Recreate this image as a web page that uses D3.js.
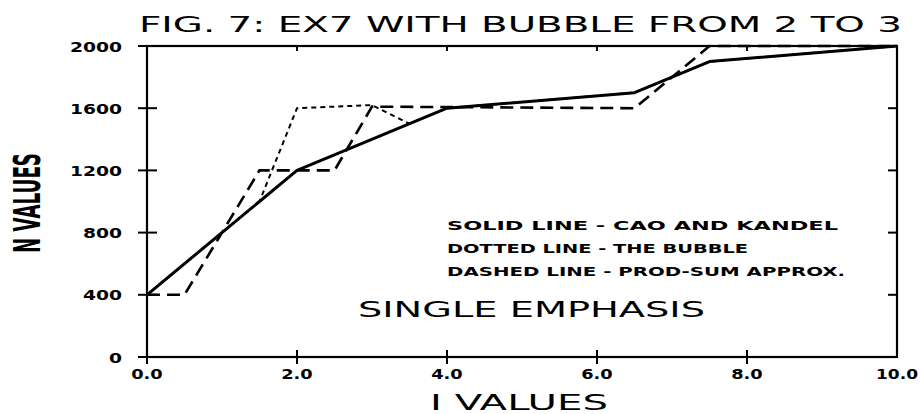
<!DOCTYPE html>
<html><head><meta charset="utf-8">
<script src="https://cdn.jsdelivr.net/npm/d3@7"></script>
<style>html,body{margin:0;padding:0;background:#fff;}svg{display:block;}</style>
</head><body>
<svg id="c" width="920" height="414"></svg>
<script>
// ---- data ----
const xTickValues = [0, 2, 4, 6, 8, 10];
const xTickLabels = ["0.0", "2.0", "4.0", "6.0", "8.0", "10.0"];
const yTickValues = [0, 400, 800, 1200, 1600, 2000];
const yTickLabels = ["0", "400", "800", "1200", "1600", "2000"];

const solidX  = [0, 1.5, 2, 4, 6.5, 7.5, 10];
const solidY  = [400, 1000, 1200, 1600, 1700, 1900, 2000];
const dottedX = [0, 1.5, 2, 3, 3.5, 4, 6.5, 7.5, 10];
const dottedY = [400, 1000, 1600, 1620, 1500, 1600, 1700, 1900, 2000];
const dashedX = [0, 0.5, 1.5, 2.5, 3, 6.5, 7.5, 10];
const dashedY = [400, 400, 1200, 1200, 1610, 1600, 2000, 2000];

const titleText = "FIG. 7: EX7 WITH BUBBLE FROM 2 TO 3";
const xLabel = "I VALUES";
const yLabel = "N VALUES";
const legendLines = ["SOLID LINE - CAO AND KANDEL", "DOTTED LINE - THE BUBBLE", "DASHED LINE - PROD-SUM APPROX."];
const noteText = "SINGLE EMPHASIS";

// ---- layout ----
const svg = d3.select("#c");
const x = d3.scaleLinear().domain([0, 10]).range([147, 897]);
const y = d3.scaleLinear().domain([0, 2000]).range([357, 46]);
const ink = "#000";

// frame
svg.append("rect").attr("x", x(0)).attr("y", y(2000))
  .attr("width", x(10) - x(0)).attr("height", y(0) - y(2000))
  .attr("fill", "none").attr("stroke", ink).attr("stroke-width", 2.2);

// ticks
const xt = xTickValues.filter(v => v > 0 && v < 10);
svg.selectAll(".xb").data(xt).join("line")
  .attr("x1", d => x(d)).attr("x2", d => x(d)).attr("y1", y(0) - 7).attr("y2", y(0) + 7)
  .attr("stroke", ink).attr("stroke-width", 2);
svg.selectAll(".xt").data(xt).join("line")
  .attr("x1", d => x(d)).attr("x2", d => x(d)).attr("y1", y(2000)).attr("y2", y(2000) + 5)
  .attr("stroke", ink).attr("stroke-width", 2);
svg.append("line").attr("x1", x(0)).attr("x2", x(0)).attr("y1", y(0)).attr("y2", y(0) + 7)
  .attr("stroke", ink).attr("stroke-width", 2);
const yt = yTickValues.filter(v => v > 0 && v < 2000);
svg.selectAll(".yl").data(yTickValues).join("line")
  .attr("x1", x(0) - 9).attr("x2", x(0) + 10).attr("y1", d => y(d)).attr("y2", d => y(d))
  .attr("stroke", ink).attr("stroke-width", 2);
svg.selectAll(".yr").data(yt).join("line")
  .attr("x1", x(10) - 9).attr("x2", x(10)).attr("y1", d => y(d)).attr("y2", d => y(d))
  .attr("stroke", ink).attr("stroke-width", 2);

// tick labels
const tickFont = "'DejaVu Sans', sans-serif";
svg.selectAll(".xtl").data(xTickValues).join("text")
  .attr("x", d => x(d)).attr("y", 379).attr("text-anchor", "middle")
  .attr("font-family", tickFont).attr("font-weight", "bold").attr("font-size", 14)
  .attr("textLength", (d, i) => xTickLabels[i].length * 10.5)
  .attr("lengthAdjust", "spacingAndGlyphs")
  .text((d, i) => xTickLabels[i]);
svg.selectAll(".ytl").data(yTickValues).join("text")
  .attr("x", 122).attr("y", d => y(d) + 5.5).attr("text-anchor", "end")
  .attr("font-family", tickFont).attr("font-weight", "bold").attr("font-size", 14)
  .attr("textLength", (d, i) => yTickLabels[i].length * 13)
  .attr("lengthAdjust", "spacingAndGlyphs")
  .text((d, i) => yTickLabels[i]);

// series
const line = d3.line().x(d => x(d[0])).y(d => y(d[1]));
const zip = (a, b) => a.map((v, i) => [v, b[i]]);
svg.append("path").attr("d", line(zip(dottedX, dottedY))).attr("fill", "none")
  .attr("stroke", ink).attr("stroke-width", 2).attr("stroke-dasharray", "5,4");
svg.append("path").attr("d", line(zip(dashedX, dashedY))).attr("fill", "none")
  .attr("stroke", ink).attr("stroke-width", 2.6).attr("stroke-dasharray", "13,7");
svg.append("path").attr("d", line(zip(solidX, solidY))).attr("fill", "none")
  .attr("stroke", ink).attr("stroke-width", 3).attr("stroke-linejoin", "round");

// title
svg.append("text").attr("x", 139).attr("y", 32)
  .attr("font-family", "'DejaVu Sans', sans-serif").attr("font-size", 20.5)
  .attr("textLength", 763).attr("lengthAdjust", "spacingAndGlyphs")
  .text(titleText);

// legend
const legW = [391, 301, 398];
svg.selectAll(".leg").data(legendLines).join("text")
  .attr("x", 447).attr("y", (d, i) => 229.5 + i * 23)
  .attr("font-family", tickFont).attr("font-weight", "bold").attr("font-size", 12.5)
  .attr("textLength", (d, i) => legW[i]).attr("lengthAdjust", "spacingAndGlyphs")
  .text(d => d);

// note
svg.append("text").attr("x", 358).attr("y", 317)
  .attr("font-family", "'DejaVu Sans', sans-serif").attr("font-size", 21)
  .attr("textLength", 347).attr("lengthAdjust", "spacingAndGlyphs")
  .text(noteText);

// axis titles
svg.append("text").attr("x", 430).attr("y", 410)
  .attr("font-family", "'DejaVu Sans', sans-serif").attr("font-size", 21)
  .attr("textLength", 178).attr("lengthAdjust", "spacingAndGlyphs")
  .text(xLabel);
svg.append("text").attr("transform", "translate(40,253) rotate(-90)")
  .attr("font-family", "'DejaVu Sans', sans-serif").attr("font-weight", "bold").attr("font-size", 37)
  .attr("textLength", 100).attr("lengthAdjust", "spacingAndGlyphs")
  .text(yLabel);
</script>
</body></html>
